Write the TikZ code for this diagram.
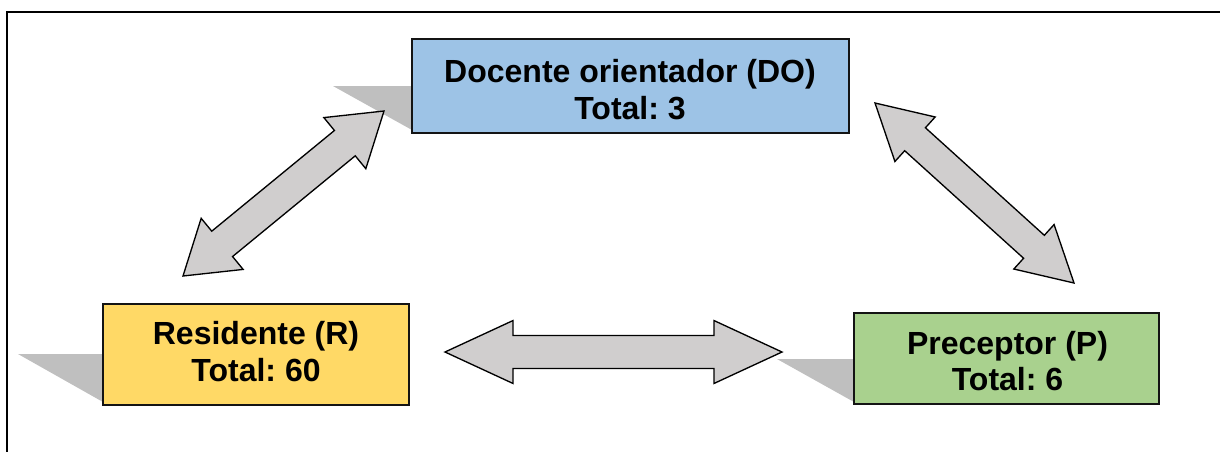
\documentclass[tikz,border=0pt]{standalone}
\usepackage{fontspec}
\setmainfont{Liberation Sans}
\usetikzlibrary{calc}
\frenchspacing
\definecolor{doblue}{HTML}{9DC3E6}
\definecolor{ryellow}{HTML}{FFD966}
\definecolor{pgreen}{HTML}{A9D18E}
\definecolor{arrgray}{HTML}{D0CECE}
\definecolor{shadgray}{HTML}{BFBFBF}
\definecolor{edge}{HTML}{141414}
\tikzset{
  boxshape/.style={rectangle, draw=edge, line width=1.1pt, inner sep=0pt},
  boxtext/.style={align=center, inner sep=0pt, font=\fontsize{24pt}{27.4pt}\selectfont\bfseries\frenchspacing},
  shade/.style={fill=shadgray, draw=none},
  blockarrow/.style={fill=arrgray, draw=black, line width=1pt, line join=miter},
  frameline/.style={draw=black, line width=1.3pt}
}
\newcommand\dblarrow[5]{%
  \coordinate (da1) at ($(#1)!#5!(#2)$);
  \coordinate (da2) at ($(#2)!#5!(#1)$);
  \draw[blockarrow] (#1) -- ($(da1)!#4!90:(#1)$) -- ($(da1)!#3!90:(#1)$)
    -- ($(da2)!#3!-90:(#2)$) -- ($(da2)!#4!-90:(#2)$) -- (#2)
    -- ($(da2)!#4!90:(#2)$) -- ($(da2)!#3!90:(#2)$)
    -- ($(da1)!#3!-90:(#1)$) -- ($(da1)!#4!-90:(#1)$) -- cycle;
}
\begin{document}
\begin{tikzpicture}[x=0.75pt, y=-0.75pt]
\useasboundingbox (0,0) rectangle (1220,451);
% frame
\draw[frameline] (7,460) -- (7,12) -- (1230,12);
% shadows
\fill[shade] (333,86) -- (412,86) -- (412,130) -- cycle;
\fill[shade] (18,354) -- (103,354) -- (103,402) -- cycle;
\fill[shade] (777,359) -- (854,359) -- (854,402) -- cycle;
% boxes
\node[boxshape, fill=doblue, minimum width=437*0.75pt, minimum height=94*0.75pt] (do) at (630.5,86) {};
\node[boxshape, fill=ryellow, minimum width=306*0.75pt, minimum height=101*0.75pt] (res) at (256,354.5) {};
\node[boxshape, fill=pgreen, minimum width=305*0.75pt, minimum height=91*0.75pt] (pre) at (1006.5,358.5) {};
% texts
\node[boxtext] (dot) at (630,89.8) {Docente orientador (DO)\\Total: 3};
\node[boxtext] (rest) at (256,351.7) {Residente (R)\\Total: 60};
\node[boxtext] (pret) at (1007.5,361.2) {Preceptor (P)\\Total: 6};
% arrow end points
\coordinate (lda) at (183,276);
\coordinate (ldb) at (384,111);
\coordinate (rda) at (875,103);
\coordinate (rdb) at (1074,283);
\coordinate (ha) at (445,352);
\coordinate (hb) at (782,352);
\dblarrow{lda}{ldb}{12.3pt}{24.8pt}{38pt}
\dblarrow{rda}{rdb}{11.6pt}{22.5pt}{40.5pt}
\dblarrow{ha}{hb}{12.4pt}{23.6pt}{51pt}
\end{tikzpicture}
\end{document}
